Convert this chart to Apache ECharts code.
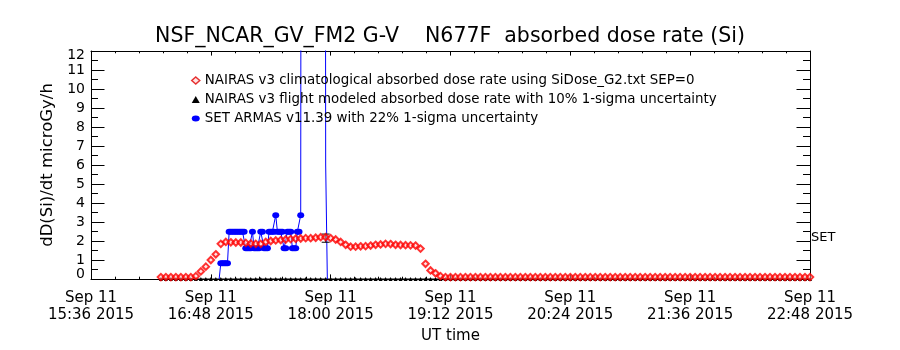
<!DOCTYPE html>
<html><head><meta charset="utf-8">
<script src="https://cdn.jsdelivr.net/npm/echarts@6/dist/echarts.min.js"></script>
<style>html,body{margin:0;padding:0;background:#fff}#c{width:900px;height:350px}</style>
</head><body><div id="c"></div>
<script>
// ---------------- data ----------------
const titleText = 'NSF_NCAR_GV_FM2 G-V    N677F  absorbed dose rate (Si)';
const xTickTimes = ['15:36','16:48','18:00','19:12','20:24','21:36','22:48'];
const xTickDate = 'Sep 11';
const xTickYear = '2015';
const yTickLabels = ['0','1','2','3','4','5','6','7','8','9','10','11','12'];

const redName = 'NAIRAS v3 climatological absorbed dose rate using SiDose_G2.txt SEP=0';
const blackName = 'NAIRAS v3 flight modeled absorbed dose rate with 10% 1-sigma uncertainty';
const blueName = 'SET ARMAS v11.39 with 22% 1-sigma uncertainty';

// NAIRAS climatological: samples every 3 minutes from 16:18
const redStart = '16:18';
const redStep = 3;
const redValues = [
  0.1,0.1,0.1,0.1,0.1,0.1,0.1,
  0.15,0.4,0.65,1.0,1.3,1.85,1.95,
  1.93,1.92,1.92,1.9,1.87,1.85,1.85,
  1.95,2.0,2.03,2.05,2.08,2.1,2.12,
  2.13,2.15,2.15,2.17,2.2,2.2,2.15,
  2.08,1.95,1.8,1.7,1.7,1.72,1.73,
  1.76,1.8,1.82,1.85,1.84,1.8,1.79,
  1.78,1.77,1.76,1.6,0.8,0.45,0.3,
  0.15,
  0.1,0.1,0.1,0.1,0.1,0.1,0.1,0.1,0.1,0.1,0.1,0.1,0.1,0.1,0.1,0.1,0.1,0.1,0.1,0.1,
  0.1,0.1,0.1,0.1,0.1,0.1,0.1,0.1,0.1,0.1,0.1,0.1,0.1,0.1,0.1,0.1,0.1,0.1,0.1,0.1,
  0.1,0.1,0.1,0.1,0.1,0.1,0.1,0.1,0.1,0.1,0.1,0.1,0.1,0.1,0.1,0.1,0.1,0.1,0.1,0.1,
  0.1,0.1,0.1,0.1,0.1,0.1,0.1,0.1,0.1,0.1,0.1,0.1,0.1,0.1
];

// NAIRAS flight modeled (same sampling as climatological)
const blackValues = [
  0,0,0,0,0,0,0,0,0,0,0,0,0,0,0,0,0,0,0,0,
  0,0,0,0,0,0,0,0,0,0,0,0,0,0,0,0,0,0,0,0,
  0,0,0,0,0,0,0,0,0,0,0,0,0,0,0,0,0,0,0,0,
  0,0,0,0,0,0,0,0,0,0,0,0,0,0,0,0,0,0,0,0,
  0,0,0,0,0,0,0,0,0,0,0,0,0,0,0,0,0,0,0,0,
  0,0,0,0,0,0,0,0,0,0,0,0,0,0,0,0,0,0,0,0,
  0,0,0,0,0,0,0,0,0,0,0
];
const blackPointTime = '17:57';
const blackPointValue = 2.15;
const blackSigma = 0.10;

// SET ARMAS measurements
const blueTimes = [
  '16:53','16:54','16:55','16:56','16:57','16:58','16:59','17:00','17:01','17:02',
  '17:03','17:04','17:05','17:06','17:07','17:08','17:09','17:10','17:11','17:12',
  '17:13','17:14','17:15','17:16','17:17','17:18','17:19','17:20','17:21','17:22',
  '17:23','17:24','17:25','17:26','17:27','17:28','17:29','17:30','17:31','17:32',
  '17:33','17:34','17:35','17:36','17:37','17:38','17:39','17:40','17:41','17:42',
  '17:43','17:56','17:57','17:58'
];
const blueValues = [
  0,0.83,0.83,0.83,0.83,0.83,2.49,2.49,2.49,2.49,
  2.49,2.49,2.49,2.49,2.49,2.49,1.62,1.62,1.62,1.62,
  2.49,1.62,1.62,1.62,1.62,2.49,2.49,1.62,1.62,1.62,
  2.49,2.49,2.49,2.49,3.36,2.49,2.49,2.49,2.49,1.62,
  1.62,2.49,2.49,2.49,1.62,1.62,1.62,2.49,2.49,3.36,
  100,100,6.0,0
];
const blueNoMarker = ['16:53','17:43','17:56','17:57','17:58'];

const setLabel = 'SET';
const setLabelValue = 2.2;

// ---------------- helpers ----------------
function toMin(s){ const p = s.split(':').map(Number); return p[0]*60 + p[1]; }
const FONT = 'DejaVu Sans';
const redData = redValues.map((v,i)=>[toMin(redStart)+i*redStep, v]);
const blackData = blackValues.map((v,i)=>[toMin(redStart)+i*redStep, v]);
const blueData = blueTimes.map((t,i)=>{
  const item = {value:[toMin(t), blueValues[i]]};
  if (blueNoMarker.indexOf(t) >= 0) item.symbolSize = 0;
  return item;
});
const xTickMins = xTickTimes.map(toMin);

const chart = echarts.init(document.getElementById('c'), null, {renderer:'canvas'});

const xCommon = {
  type:'value', min: toMin(xTickTimes[0]), max: toMin(xTickTimes[xTickTimes.length-1]), interval: 72,
  axisLine:{show:true, onZero:false, lineStyle:{color:'#000', width:1}},
  axisTick:{show:true, inside:true, length:4.6, lineStyle:{color:'#000', width:1}},
  minorTick:{show:true, splitNumber:5, length:2.3, lineStyle:{color:'#000', width:1}},
  splitLine:{show:false}, minorSplitLine:{show:false}
};
const yCommon = {
  type:'value', min:0, max:12, interval:1,
  axisLine:{show:true, onZero:false, lineStyle:{color:'#000', width:1}},
  axisTick:{show:true, inside:true, length:13.5, lineStyle:{color:'#000', width:1}},
  minorTick:{show:true, splitNumber:2, length:7, lineStyle:{color:'#000', width:1}},
  splitLine:{show:false}, minorSplitLine:{show:false}
};

chart.setOption({
  animation:false,
  backgroundColor:'#fff',
  title:{
    text:titleText, left:'center', top:26, padding:0,
    textStyle:{fontFamily:FONT, fontSize:20.5, fontWeight:'normal', color:'#000'}
  },
  grid:{left:91, top:51, width:719, height:228, outerBoundsMode:'none', containLabel:false},
  legend:{
    orient:'vertical', left:191, top:73, padding:0, itemGap:4,
    itemWidth:8, itemHeight:7, selectedMode:false,
    textStyle:{fontFamily:FONT, fontSize:13.4, color:'#000', lineHeight:15},
    data:[
      {name:redName, icon:'diamond', itemStyle:{color:'#ffdddd', borderColor:'#e00000', borderWidth:1.5}},
      {name:blackName, icon:'triangle', itemStyle:{color:'#000', borderWidth:0}},
      {name:blueName, icon:'path://M0,3A4,3,0,1,1,8,3A4,3,0,1,1,0,3Z', itemStyle:{color:'#0000ff', borderWidth:0}}
    ]
  },
  xAxis:[
    Object.assign({}, xCommon, {
      position:'bottom',
      axisLabel:{
        show:true, showMinLabel:true, showMaxLabel:true, hideOverlap:false,
        fontFamily:FONT, fontSize:15, color:'#000', margin:11, lineHeight:17,
        formatter:(v)=>{ const i = xTickMins.indexOf(v); return i<0 ? '' : xTickDate + '\n' + xTickTimes[i] + ' ' + xTickYear; }
      },
      name:'UT time', nameLocation:'middle', nameGap:46,
      nameTextStyle:{fontFamily:FONT, fontSize:15, color:'#000'}
    }),
    Object.assign({}, xCommon, {position:'top', axisLabel:{show:false}})
  ],
  yAxis:[
    Object.assign({}, yCommon, {
      position:'left',
      axisLabel:{
        show:true, showMinLabel:true, showMaxLabel:true, hideOverlap:false,
        fontFamily:FONT, fontSize:14, color:'#000', margin:6, lineHeight:9,
        verticalAlignMinLabel:'bottom', verticalAlignMaxLabel:'top',
        formatter:(v)=> yTickLabels[Math.round(v)]
      },
      name:'dD(Si)/dt microGy/h', nameLocation:'middle', nameGap:34, nameRotate:90,
      nameTextStyle:{fontFamily:FONT, fontSize:16.5, color:'#000'}
    }),
    Object.assign({}, yCommon, {position:'right', axisLabel:{show:false}})
  ],
  series:[
    {
      name:blueName, type:'line', data:blueData, xAxisIndex:0, yAxisIndex:0,
      symbol:'circle', symbolSize:[7,6], showSymbol:true, showAllSymbol:true, clip:true,
      lineStyle:{color:'#0000ff', width:1}, itemStyle:{color:'#0000ff', borderWidth:0},
      emphasis:{disabled:true}, z:3
    },
    {
      name:blackName, type:'line', data:blackData,
      symbol:'triangle', symbolSize:4, showAllSymbol:true, clip:false,
      lineStyle:{color:'#000', width:1}, itemStyle:{color:'#000', borderWidth:0},
      emphasis:{disabled:true}, z:2
    },
    {
      name:blackName, type:'custom',
      data:[[toMin(blackPointTime), blackPointValue, blackPointValue*blackSigma]],
      encode:{x:0, y:1},
      renderItem:(params, api)=>{
        const x = api.value(0), v = api.value(1), e = api.value(2);
        const t = api.coord([x, v+e]), b = api.coord([x, v-e]);
        const st = {stroke:'#000', lineWidth:1};
        return {type:'group', children:[
          {type:'line', shape:{x1:t[0], y1:t[1], x2:b[0], y2:b[1]}, style:st},
          {type:'line', shape:{x1:t[0]-4, y1:t[1], x2:t[0]+4, y2:t[1]}, style:st},
          {type:'line', shape:{x1:b[0]-4, y1:b[1], x2:b[0]+4, y2:b[1]}, style:st}
        ]};
      },
      z:4
    },
    {
      name:redName, type:'scatter', data:redData,
      symbol:'diamond', symbolSize:6.5,
      itemStyle:{color:'rgba(255,200,200,0.6)', borderColor:'#ff0000', borderWidth:2},
      emphasis:{disabled:true}, z:5
    }
  ]
});

const p = chart.convertToPixel({xAxisIndex:0, yAxisIndex:0}, [toMin(xTickTimes[xTickTimes.length-1]), setLabelValue]);
chart.setOption({graphic:[{type:'text', x:p[0]+1, y:p[1], style:{text:setLabel, fontFamily:FONT, fontSize:13, fill:'#000', verticalAlign:'middle', align:'left'}}]});
</script>
</body></html>
